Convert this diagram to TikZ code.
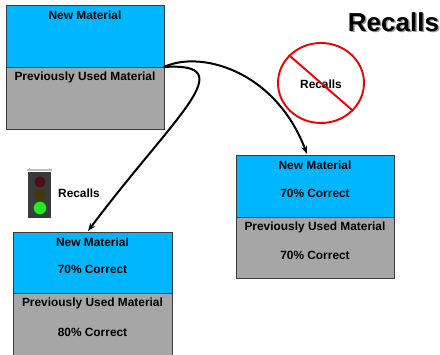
\documentclass[tikz,border=0pt]{standalone}
\usepackage{fontspec}
\setmainfont{Liberation Sans}
\usetikzlibrary{arrows.meta,shapes.geometric}
\definecolor{matblue}{RGB}{0,182,255}
\definecolor{matgray}{RGB}{166,166,166}
\definecolor{boxline}{RGB}{60,60,60}
\definecolor{nored}{RGB}{238,0,0}
\definecolor{tlbody}{RGB}{58,58,58}
\definecolor{tlred}{RGB}{75,15,15}
\definecolor{tlamber}{RGB}{62,58,14}
\definecolor{tlgreen}{RGB}{40,235,40}
\tikzset{
  half/.style={draw=boxline, line width=0.8pt, minimum width=158pt, minimum height=62pt, anchor=north west, inner sep=0pt, outer sep=0pt},
  newhalf/.style={half, fill=matblue},
  oldhalf/.style={half, fill=matgray},
  lbl/.style={font=\fontsize{11.9}{13}\selectfont\bfseries, inner sep=0pt},
  conn/.style={line width=2pt, -{Stealth[length=8pt,width=6pt]}},
}
\begin{document}
\begin{tikzpicture}[x=1pt,y=-1pt]
\useasboundingbox (0,0) rectangle (440,355);
% top-left box
\node[newhalf] (tlnew) at (6,5) {};
\node[oldhalf] (tlold) at (6,67) {};
\node[lbl] (tlnewt) at (85,15) {New Material};
\node[lbl] (tloldt) at (85,77) {Previously Used Material};
% right box
\node[newhalf] (rnew) at (236,155) {};
\node[oldhalf, minimum height=61pt] (rold) at (236,217) {};
\node[lbl] (rnewt) at (315,165) {New Material};
\node[lbl] (rnewp) at (315,193) {70\% Correct};
\node[lbl] (roldt) at (315,227) {Previously Used Material};
\node[lbl] (roldp) at (315,255) {70\% Correct};
% bottom-left box
\node[newhalf, minimum width=159pt, minimum height=61pt] (blnew) at (13,232) {};
\node[oldhalf, minimum width=159pt, minimum height=66pt] (blold) at (13,293) {};
\node[lbl] (blnewt) at (92.5,242) {New Material};
\node[lbl] (blnewp) at (92.5,269) {70\% Correct};
\node[lbl] (blodt) at (92.5,303) {Previously Used Material};
\node[lbl] (blodp) at (92.5,332) {80\% Correct};
% title
\node[font=\fontsize{26}{30}\selectfont\bfseries, text=black!40, inner sep=0pt] (titleshadow) at (395,23.5) {Recalls};
\node[font=\fontsize{26}{30}\selectfont\bfseries, inner sep=0pt] (title) at (393.5,22) {Recalls};
% no recalls sign
\node[draw=nored, line width=1.9pt, ellipse, minimum width=86pt, minimum height=80pt, inner sep=0pt] (nosign) at (321,83) {};
\node[lbl] (nosignt) at (321,84) {Recalls};
\draw[nored, line width=1.9pt] (nosign.139) -- (nosign.-41);
% traffic light
\fill[black!25] (27,169.5) rectangle (52,171);
\fill[black!25] (29,168.5) rectangle (30,171);
\fill[black!25] (49,168.5) rectangle (50,171);
\node[fill=tlbody, minimum width=23pt, minimum height=46pt, inner sep=0pt, anchor=north west] (tlight) at (28,172) {};
\node[circle, fill=tlred, minimum size=11pt, inner sep=0pt] (lred) at (40,182) {};
\node[circle, fill=tlamber, minimum size=12pt, inner sep=0pt] (lamber) at (40,195) {};
\node[circle, fill=tlgreen, draw=green!50!black, line width=0.5pt, minimum size=13pt, inner sep=0pt] (lgreen) at (40,208) {};
\node[lbl] (tlightt) at (79,193) {Recalls};
% connectors
\coordinate (rtip) at (307,154);
\coordinate (bltip) at (88,231);
\draw[conn] (tlnew.south east) .. controls (200,50) and (275,70) .. (rtip);
\draw[conn] (tlnew.south east) .. controls (244,62) and (175,115) .. (bltip);
\end{tikzpicture}
\end{document}
